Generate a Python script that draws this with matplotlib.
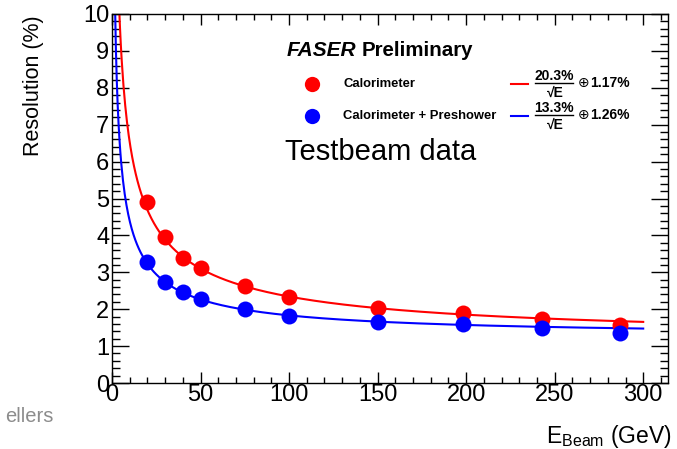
import numpy as np
import matplotlib
matplotlib.use("Agg")
import matplotlib.pyplot as plt
from matplotlib.ticker import MultipleLocator

plt.rcParams['font.family'] = ['Liberation Sans', 'DejaVu Sans']
plt.rcParams['mathtext.fontset'] = 'custom'
plt.rcParams['mathtext.rm'] = 'Liberation Sans'
plt.rcParams['mathtext.bf'] = 'Liberation Sans:bold'
plt.rcParams['mathtext.it'] = 'Liberation Sans:italic'

# beam energies (GeV) and measured resolution (%)
e_calo = [20, 30, 40, 50, 75, 100, 150, 198, 243, 287]
res_calo = [4.90, 3.95, 3.40, 3.12, 2.62, 2.32, 2.03, 1.90, 1.73, 1.57]
e_pre = [20, 30, 40, 50, 75, 100, 150, 198, 243, 287]
res_pre = [3.27, 2.75, 2.47, 2.28, 2.00, 1.82, 1.64, 1.60, 1.50, 1.36]

# fit parameters: stochastic term / constant term (%)
fit_calo = (20.3, 1.17)
fit_pre = (13.3, 1.26)

W, H = 677, 449
fig = plt.figure(figsize=(W / 100, H / 100), dpi=100)
ax = fig.add_axes([112 / W, 1 - 383 / H, (668 - 112) / W, (383 - 14) / H])


def fit_curve(p, emin, emax=300):
    e = np.linspace(emin, emax, 600)
    return e, np.sqrt((p[0] / np.sqrt(e)) ** 2 + p[1] ** 2)


e, r = fit_curve(fit_calo, 4.0)
ax.plot(e, r, color='#ff0000', lw=1.5, zorder=2)
e, r = fit_curve(fit_pre, 1.7)
ax.plot(e, r, color='#0000ff', lw=1.5, zorder=2)

ax.plot(e_calo, res_calo, 'o', color='#ff0000', ms=11.5, mec='none', zorder=3)
ax.plot(e_pre, res_pre, 'o', color='#0000ff', ms=11.5, mec='none', zorder=3)

ax.set_xlim(0, 314)
ax.set_ylim(0, 10)
ax.xaxis.set_major_locator(MultipleLocator(50))
ax.xaxis.set_minor_locator(MultipleLocator(10))
ax.yaxis.set_major_locator(MultipleLocator(1))
ax.yaxis.set_minor_locator(MultipleLocator(0.2))
ax.tick_params(which='both', direction='in', top=True, right=True,
               labelsize=17, width=1.0)
ax.tick_params(axis='x', which='major', length=8, pad=1)
ax.tick_params(axis='x', which='minor', length=4)
ax.tick_params(axis='y', which='major', length=12, pad=2)
ax.tick_params(axis='y', which='minor', length=6)
for s in ax.spines.values():
    s.set_linewidth(1.0)

fig.text(33 / W, 1 - 15 / H, 'Resolution (%)', rotation=90, ha='center',
         va='top', fontsize=15.5)
fig.text(672 / W, 1 - 436 / H, r'$\mathregular{E_{Beam}}$ (GeV)', ha='right',
         va='center', fontsize=16.5)
fig.text(5 / W, 1 - 417 / H, 'ellers', ha='left', va='center', fontsize=14.5,
         color='#8c8c8c')

# legend block
fig.text(287 / W, 1 - 50 / H, 'FASER', ha='left', va='center', fontsize=15,
         fontweight='bold', fontstyle='italic')
fig.text(362 / W, 1 - 50 / H, 'Preliminary', ha='left', va='center',
         fontsize=14.8, fontweight='bold')

rows = [('Calorimeter', '#ff0000', fit_calo, 84),
        ('Calorimeter + Preshower', '#0000ff', fit_pre, 116)]
for label, col, p, y in rows:
    yf = 1 - y / H
    fig.lines.append(plt.Line2D([312 / W], [yf], marker='o', ms=11,
                                color=col, mec='none',
                                transform=fig.transFigure))
    fig.text(343 / W, yf, label, ha='left', va='center', fontsize=9.4,
             fontweight='bold')
    fig.lines.append(plt.Line2D([511 / W, 528 / W], [yf, yf], color=col,
                                lw=1.5, transform=fig.transFigure))
    fig.text(554 / W, 1 - (y - 7.5) / H, '%.1f%%' % p[0], ha='center',
             va='center', fontsize=10, fontweight='bold')
    fig.lines.append(plt.Line2D([535 / W, 573 / W], [1 - (y - 1) / H] * 2,
                                color='black', lw=1.0,
                                transform=fig.transFigure))
    fig.text(555 / W, 1 - (y + 8.5) / H, '\u221aE', ha='center',
             va='center', fontsize=10, fontweight='bold')
    fig.text(578 / W, 1 - (y - 1) / H, '\u2295', ha='left', va='center',
             fontsize=10, family=['DejaVu Sans'])
    fig.text(590 / W, 1 - (y - 1) / H, '%.2f%%' % p[1], ha='left',
             va='center', fontsize=10, fontweight='bold')

ax.text(0.484, 0.626, 'Testbeam data', transform=ax.transAxes, ha='center',
        va='center', fontsize=21)

fig.savefig('out.png', dpi=100)
